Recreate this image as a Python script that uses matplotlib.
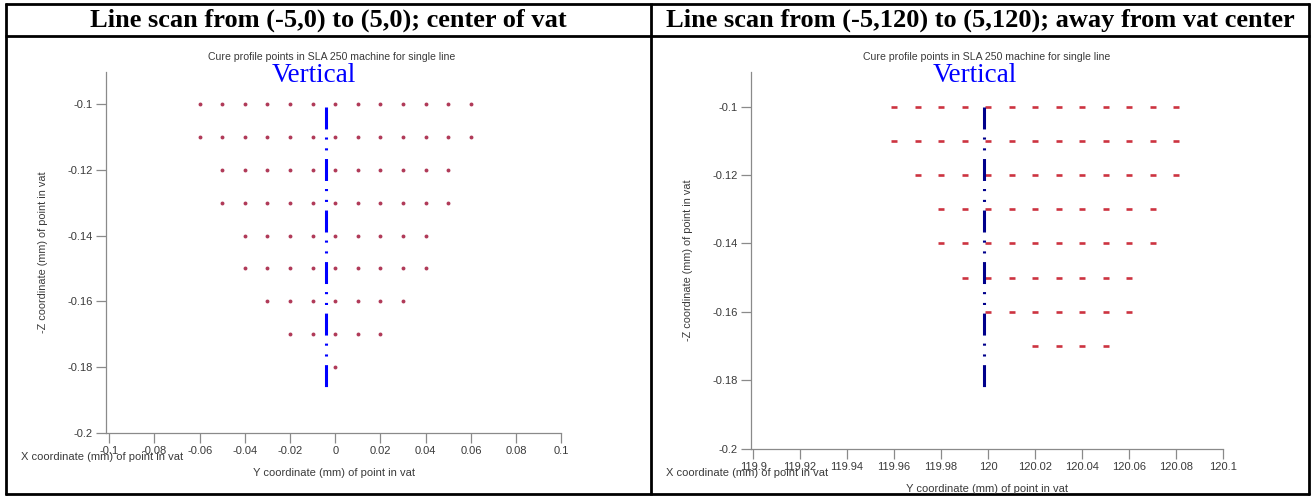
import matplotlib
matplotlib.use("Agg")
import matplotlib.pyplot as plt
from matplotlib.lines import Line2D

W, H = 1313, 497

# ---------------- data ----------------
header_left = "Line scan from (-5,0) to (5,0); center of vat"
header_right = "Line scan from (-5,120) to (5,120); away from vat center"
plot_title = "Cure profile points in SLA 250 machine for single line"
vertical_label = "Vertical"
xlab_text = "X coordinate (mm) of point in vat"
ylab_text = "Y coordinate (mm) of point in vat"
zlab_text = "-Z coordinate (mm) of point in vat"

# left panel: centre of vat
left_z = [-0.10, -0.11, -0.12, -0.13, -0.14, -0.15, -0.16, -0.17, -0.18]
left_y_rows = [
    [-0.06, -0.05, -0.04, -0.03, -0.02, -0.01, 0.0, 0.01, 0.02, 0.03, 0.04, 0.05, 0.06],
    [-0.06, -0.05, -0.04, -0.03, -0.02, -0.01, 0.0, 0.01, 0.02, 0.03, 0.04, 0.05, 0.06],
    [-0.05, -0.04, -0.03, -0.02, -0.01, 0.0, 0.01, 0.02, 0.03, 0.04, 0.05],
    [-0.05, -0.04, -0.03, -0.02, -0.01, 0.0, 0.01, 0.02, 0.03, 0.04, 0.05],
    [-0.04, -0.03, -0.02, -0.01, 0.0, 0.01, 0.02, 0.03, 0.04],
    [-0.04, -0.03, -0.02, -0.01, 0.0, 0.01, 0.02, 0.03, 0.04],
    [-0.03, -0.02, -0.01, 0.0, 0.01, 0.02, 0.03],
    [-0.02, -0.01, 0.0, 0.01, 0.02],
    [0.0],
]
left_vline_y = -0.0041
left_vline_z = [-0.101, -0.1861]
left_xticks = [-0.1, -0.08, -0.06, -0.04, -0.02, 0.0, 0.02, 0.04, 0.06, 0.08, 0.1]
left_xticklabels = ["-0.1", "-0.08", "-0.06", "-0.04", "-0.02", "0", "0.02", "0.04", "0.06", "0.08", "0.1"]

# right panel: away from vat centre
right_z = [-0.10, -0.11, -0.12, -0.13, -0.14, -0.15, -0.16, -0.17]
right_y_rows = [
    [119.96, 119.97, 119.98, 119.99, 120.00, 120.01, 120.02, 120.03, 120.04, 120.05, 120.06, 120.07, 120.08],
    [119.96, 119.97, 119.98, 119.99, 120.00, 120.01, 120.02, 120.03, 120.04, 120.05, 120.06, 120.07, 120.08],
    [119.97, 119.98, 119.99, 120.00, 120.01, 120.02, 120.03, 120.04, 120.05, 120.06, 120.07, 120.08],
    [119.98, 119.99, 120.00, 120.01, 120.02, 120.03, 120.04, 120.05, 120.06, 120.07],
    [119.98, 119.99, 120.00, 120.01, 120.02, 120.03, 120.04, 120.05, 120.06, 120.07],
    [119.99, 120.00, 120.01, 120.02, 120.03, 120.04, 120.05, 120.06],
    [120.00, 120.01, 120.02, 120.03, 120.04, 120.05, 120.06],
    [120.02, 120.03, 120.04, 120.05],
]
right_vline_y = 119.9983
right_vline_z = [-0.1, -0.182]
right_xticks = [119.9, 119.92, 119.94, 119.96, 119.98, 120.0, 120.02, 120.04, 120.06, 120.08, 120.1]
right_xticklabels = ["119.9", "119.92", "119.94", "119.96", "119.98", "120", "120.02", "120.04", "120.06", "120.08", "120.1"]

zticks = [-0.1, -0.12, -0.14, -0.16, -0.18, -0.2]
zticklabels = ["-0.1", "-0.12", "-0.14", "-0.16", "-0.18", "-0.2"]

# ---------------- layout helpers ----------------
plt.rcParams["lines.scale_dashes"] = False

def rect(x0, ytop, x1, ybot):
    return [x0 / W, 1 - ybot / H, (x1 - x0) / W, (ybot - ytop) / H]

def fx(x):
    return x / W

def fy(y):
    return 1 - y / H

SANS = "Liberation Sans"
SERIF = "Liberation Serif"
GREY_TXT = "#3a3a3a"
GREY_AX = "#8a8a8a"

fig = plt.figure(figsize=(W / 100, H / 100), dpi=100)
fig.patch.set_facecolor("white")

# table borders
def hline(y, x0, x1, lw=2.0):
    fig.add_artist(Line2D([fx(x0), fx(x1)], [fy(y), fy(y)], transform=fig.transFigure,
                          color="black", lw=lw, solid_capstyle="butt"))

def vline(x, y0, y1, lw=2.0):
    fig.add_artist(Line2D([fx(x), fx(x)], [fy(y0), fy(y1)], transform=fig.transFigure,
                          color="black", lw=lw, solid_capstyle="butt"))

hline(4, 5, 1310)
hline(36, 5, 1310)
hline(494, 5, 1310)
vline(6, 3, 495)
vline(651, 3, 495)
vline(1309, 3, 495)

fig.text(fx(328.5), fy(20.5), header_left, ha="center", va="center",
         fontsize=19, fontweight="bold", family=SERIF)
fig.text(fx(980), fy(20.5), header_right, ha="center", va="center",
         fontsize=19, fontweight="bold", family=SERIF)


def make_panel(ax_rect, xlim, ylim, z_vals, y_rows, vline_y, vline_z, vcolor,
               xticks, xticklabels, marker_kw, title_x, vert_x, spine_x, axis_y):
    ax = fig.add_axes(ax_rect)
    ax.set_xlim(*xlim)
    ax.set_ylim(*ylim)
    for z, ys in zip(z_vals, y_rows):
        ax.plot(ys, [z] * len(ys), linestyle="none", **marker_kw)
    ax.plot([vline_y, vline_y], vline_z, color=vcolor, lw=2.2,
            dashes=(15.8, 5.8, 1.5, 6.3, 1.5, 6.2), dash_capstyle="butt")
    for s in ("top", "right"):
        ax.spines[s].set_visible(False)
    for s in ("left", "bottom"):
        ax.spines[s].set_color(GREY_AX)
        ax.spines[s].set_linewidth(0.9)
    ax.set_xticks(xticks)
    ax.set_xticklabels(xticklabels)
    ax.set_yticks(zticks)
    ax.set_yticklabels(zticklabels)
    ax.tick_params(direction="out", length=7, width=0.9, color=GREY_AX,
                   labelsize=8, labelcolor=GREY_TXT, pad=2.5)
    for lab in ax.get_xticklabels() + ax.get_yticklabels():
        lab.set_family(SANS)
    ax.set_facecolor("none")
    # texts
    fig.text(fx(title_x), fy(57), plot_title, ha="center", va="center",
             fontsize=7.6, color=GREY_TXT, family=SANS)
    fig.text(fx(vert_x), fy(75), vertical_label, ha="center", va="center",
             fontsize=19.5, color="#0000ff", family=SERIF)
    fig.text(fx(spine_x - 63), fy((72 + axis_y) / 2), zlab_text, ha="center", va="center",
             rotation=90, fontsize=7.8, color=GREY_TXT, family=SANS)
    fig.text(fx(spine_x - 85), fy(axis_y + 24), xlab_text, ha="left", va="center",
             fontsize=8, color=GREY_TXT, family=SANS)
    x_end = ax_rect[0] * W + ax_rect[2] * W
    fig.text(fx((spine_x + x_end) / 2), fy(axis_y + 40), ylab_text, ha="center", va="center",
             fontsize=8, color=GREY_TXT, family=SANS)
    return ax


left_marker = dict(marker="o", markersize=2.8, color="#b03a58", markeredgewidth=0)
right_marker = dict(marker="_", markersize=3.8, markeredgewidth=1.9, color="#cc3340")

make_panel(rect(106, 72, 561.3, 433), (-0.10146, 0.1), (-0.2, -0.0903),
           left_z, left_y_rows, left_vline_y, left_vline_z, "#0000ff",
           left_xticks, left_xticklabels, left_marker,
           title_x=332, vert_x=313.5, spine_x=106, axis_y=433)

make_panel(rect(750.7, 72, 1223, 448.7), (119.899, 120.1), (-0.2, -0.0899),
           right_z, right_y_rows, right_vline_y, right_vline_z, "#00008b",
           right_xticks, right_xticklabels, right_marker,
           title_x=987, vert_x=975, spine_x=750.7, axis_y=448.7)

fig.savefig("out.png", dpi=100, facecolor="white")
